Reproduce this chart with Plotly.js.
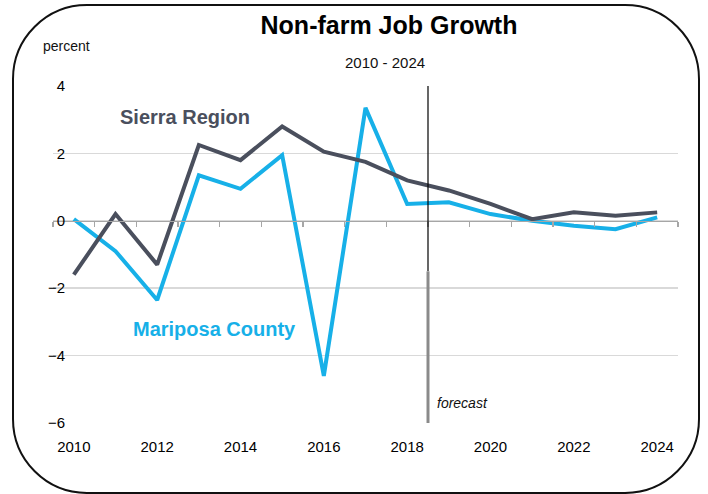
<!DOCTYPE html>
<html>
<head>
<meta charset="utf-8">
<script src="https://cdn.plot.ly/plotly-3.0.1.min.js"></script>
<style>html,body{margin:0;padding:0;background:#fff;}#chart{width:708px;height:494px;}</style>
</head>
<body>
<div id="chart"></div>
<script>
// ---- data ----
const years = [2010, 2011, 2012, 2013, 2014, 2015, 2016, 2017, 2018, 2019, 2020, 2021, 2022, 2023, 2024];
const sierraRegion = [-1.6, 0.2, -1.3, 2.25, 1.8, 2.8, 2.05, 1.75, 1.2, 0.9, 0.5, 0.05, 0.25, 0.15, 0.25];
const mariposaCounty = [0.05, -0.9, -2.35, 1.35, 0.95, 1.95, -4.6, 3.35, 0.5, 0.55, 0.2, 0.0, -0.15, -0.25, 0.1];
const xTickLabels = [2010, 2012, 2014, 2016, 2018, 2020, 2022, 2024];
const yTickValues = [-6, -4, -2, 0, 2, 4];
const forecastStart = 2018.5;
const titleText = 'Non-farm Job Growth';
const subtitleText = '2010 - 2024';

// ---- layout helpers ----
const W = 708, H = 494;
const M = {l: 53, r: 30, t: 86, b: 71};
const PW = W - M.l - M.r, PH = H - M.t - M.b;
const px = x => (x - M.l) / PW;
const py = y => (H - M.b - y) / PH;

const SANS = '"Liberation Sans", Arial, sans-serif';
const C_SIERRA = '#4a4f5d';
const C_MARI = '#17b0e8';

// rounded frame path (pixel -> paper)
function roundedRect(x0, y0, x1, y1, r) {
  const k = 0.5523 * r;
  const P = (x, y) => px(x).toFixed(5) + ',' + py(y).toFixed(5);
  return 'M' + P(x0 + r, y0) +
    ' L' + P(x1 - r, y0) +
    ' C' + P(x1 - r + k, y0) + ' ' + P(x1, y0 + r - k) + ' ' + P(x1, y0 + r) +
    ' L' + P(x1, y1 - r) +
    ' C' + P(x1, y1 - r + k) + ' ' + P(x1 - r + k, y1) + ' ' + P(x1 - r, y1) +
    ' L' + P(x0 + r, y1) +
    ' C' + P(x0 + r - k, y1) + ' ' + P(x0, y1 - r + k) + ' ' + P(x0, y1 - r) +
    ' L' + P(x0, y0 + r) +
    ' C' + P(x0, y0 + r - k) + ' ' + P(x0 + r - k, y0) + ' ' + P(x0 + r, y0) + ' Z';
}

const halfTicks = [years[0] - 0.5].concat(years.map(y => y + 0.5));
const xRange = [years[0] - 0.5, years[years.length - 1] + 0.5];

const traces = [
  {x: years, y: mariposaCounty, xaxis: 'x', yaxis: 'y', mode: 'lines', name: 'Mariposa County',
   line: {color: C_MARI, width: 4}, hoverinfo: 'x+y'},
  {x: years, y: sierraRegion, xaxis: 'x2', yaxis: 'y', mode: 'lines', name: 'Sierra Region',
   line: {color: C_SIERRA, width: 4}, hoverinfo: 'x+y'}
];

const layout = {
  width: W, height: H,
  margin: M,
  paper_bgcolor: '#fff', plot_bgcolor: 'rgba(0,0,0,0)',
  showlegend: false,
  title: {text: '<b>' + titleText + '</b>', font: {family: SANS, size: 25, color: '#000'},
          xref: 'paper', x: px(389), xanchor: 'center', yref: 'container', y: 1 - 25 / H, yanchor: 'middle'},
  xaxis: {range: xRange, tickvals: xTickLabels, ticktext: xTickLabels.map(String), ticks: '',
          showgrid: false, zeroline: false, showline: false,
          tickfont: {family: SANS, size: 15, color: '#000'}, ticklabelstandoff: 13},
  xaxis2: {overlaying: 'x', anchor: 'free', position: 0.6, side: 'bottom', range: xRange,
           tickvals: halfTicks, ticks: 'outside', ticklen: 5, tickwidth: 1.5, tickcolor: '#a6a6a6',
           showticklabels: false, showgrid: false, zeroline: false,
           showline: true, linecolor: '#a6a6a6', linewidth: 1.5},
  yaxis: {range: [-6, 4], tickvals: yTickValues, ticks: '', showgrid: true, gridcolor: '#d9d9d9', gridwidth: 1.5,
          zeroline: false, showline: false, ticklabelstandoff: -13,
          tickfont: {family: SANS, size: 15, color: '#000'}},
  shapes: [
    {type: 'path', xref: 'paper', yref: 'paper', path: roundedRect(13, 5, 699, 493, 74),
     line: {color: '#111', width: 2}, fillcolor: 'rgba(0,0,0,0)', layer: 'above'},
    {type: 'line', xref: 'x', yref: 'y', x0: forecastStart, x1: forecastStart, y0: 4, y1: -1.5,
     line: {color: '#000', width: 1.2}},
    {type: 'line', xref: 'x', yref: 'y', x0: forecastStart, x1: forecastStart, y0: -1.5, y1: -6,
     line: {color: '#8a8a8a', width: 3}}
  ],
  annotations: [
    {text: subtitleText, xref: 'paper', yref: 'paper', x: px(385), y: py(63), showarrow: false,
     xanchor: 'center', yanchor: 'middle', font: {family: SANS, size: 15, color: '#111'}},
    {text: 'percent', xref: 'paper', yref: 'paper', x: px(41), y: py(46), showarrow: false,
     xanchor: 'left', yanchor: 'middle', font: {family: SANS, size: 14, color: '#111'}},
    {text: '<b>Sierra Region</b>', xref: 'paper', yref: 'paper', x: px(185), y: py(117), showarrow: false,
     xanchor: 'center', yanchor: 'middle', font: {family: SANS, size: 20, color: C_SIERRA}},
    {text: '<b>Mariposa County</b>', xref: 'paper', yref: 'paper', x: px(214), y: py(329), showarrow: false,
     xanchor: 'center', yanchor: 'middle', font: {family: SANS, size: 20, color: C_MARI}},
    {text: '<i>forecast</i>', xref: 'paper', yref: 'paper', x: px(435), y: py(403), showarrow: false,
     xanchor: 'left', yanchor: 'middle', font: {family: SANS, size: 14, color: '#111'}}
  ]
};

Plotly.newPlot('chart', traces, layout, {displayModeBar: false, staticPlot: true});
</script>
</body>
</html>
